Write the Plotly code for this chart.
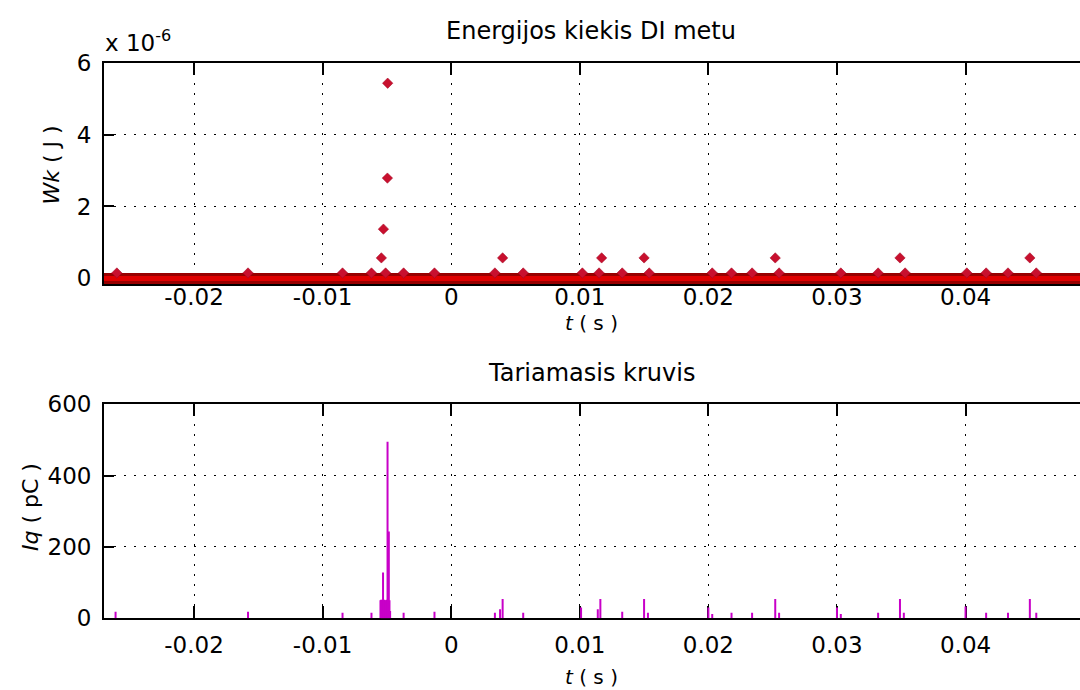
import plotly.graph_objects as go

# ---------------- data ----------------
# top panel: energy per discharge (J), diamond markers
W_t = [-0.0260, -0.0158, -0.00845, -0.0062, -0.00543, -0.00527, -0.0051, -0.00496, -0.00494,
       -0.0037, -0.0013, 0.0034, 0.0040, 0.0056, 0.0102, 0.0115, 0.0117, 0.0133, 0.0150,
       0.0154, 0.0203, 0.0218, 0.0234, 0.0252, 0.0255, 0.0303, 0.0332, 0.0349, 0.0353,
       0.0401, 0.0416, 0.0433, 0.0450, 0.0455]
W_val = [0.15e-6, 0.15e-6, 0.15e-6, 0.15e-6, 0.57e-6, 1.37e-6, 0.15e-6, 2.79e-6, 5.43e-6,
         0.15e-6, 0.15e-6, 0.15e-6, 0.57e-6, 0.15e-6, 0.15e-6, 0.15e-6, 0.57e-6, 0.15e-6, 0.57e-6,
         0.15e-6, 0.15e-6, 0.15e-6, 0.15e-6, 0.57e-6, 0.15e-6, 0.15e-6, 0.15e-6, 0.57e-6, 0.15e-6,
         0.15e-6, 0.15e-6, 0.15e-6, 0.57e-6, 0.15e-6]
# zero-level samples (the dense band along W = 0)
base_t = [-0.0275, 0.0495]
base_W = [0.0, 0.0]

# bottom panel: apparent charge (pC), stems
q_t = [-0.0261, -0.0158, -0.00845, -0.0062,
       -0.00550, -0.00545, -0.00540, -0.00535, -0.00530, -0.00525, -0.00520, -0.00515,
       -0.00510, -0.00505, -0.00500, -0.00495, -0.00490, -0.00485, -0.00480, -0.00475,
       -0.0037, -0.0013, 0.0034, 0.0038, 0.0040, 0.0056,
       0.0101, 0.0114, 0.0116, 0.0133, 0.0150, 0.0153,
       0.0200, 0.0203, 0.0218, 0.0234, 0.0252, 0.0255,
       0.0300, 0.0303, 0.0332, 0.0349, 0.0352,
       0.0400, 0.0416, 0.0433, 0.0450, 0.0455]
q_val = [18, 18, 15, 15,
         50, 52, 50, 52, 128, 50, 52, 50,
         48, 50, 52, 495, 50, 243, 50, 20,
         15, 18, 15, 25, 54, 15,
         30, 25, 54, 18, 54, 15,
         30, 12, 15, 15, 54, 15,
         30, 12, 15, 54, 15,
         33, 15, 15, 54, 15]

x_tick_vals = [-0.02, -0.01, 0, 0.01, 0.02, 0.03, 0.04]
x_tick_text = ["-0.02", "-0.01", "0", "0.01", "0.02", "0.03", "0.04"]
yW_tick_vals = [0, 2e-6, 4e-6, 6e-6]
yW_tick_text = ["0", "2", "4", "6"]
yq_tick_vals = [0, 200, 400, 600]
yq_tick_text = ["0", "200", "400", "600"]

title_top = "Energijos kiekis DI metu"
title_bot = "Tariamasis kruvis"

# ---------------- figure ----------------
W, H = 1080, 690
FONT = "DejaVu Sans"
TICK = 23
# observed vertical mapping of the paper area in the renderer
P_TOP, P_H = 12.2, 665.0


def py(p):
    """pixel row (from top) -> paper fraction"""
    return 1 - (p - P_TOP) / P_H


fig = go.Figure()

# zero band (top)
fig.add_trace(go.Scatter(x=base_t, y=base_W, mode="lines", line=dict(color="#980000", width=11),
                         xaxis="x", yaxis="y", hoverinfo="skip", showlegend=False))
fig.add_trace(go.Scatter(x=base_t, y=base_W, mode="lines", line=dict(color="#e00000", width=5),
                         xaxis="x", yaxis="y", hoverinfo="skip", showlegend=False))
# diamonds
fig.add_trace(go.Scatter(x=W_t, y=W_val, mode="markers",
                         marker=dict(symbol="diamond", size=8, color="#c8102e",
                                     line=dict(color="#a0001e", width=0.5)),
                         cliponaxis=False, xaxis="x", yaxis="y", showlegend=False))

# stems (bottom)
sx, sy = [], []
for t, v in zip(q_t, q_val):
    sx += [t, t, None]
    sy += [0, v, None]
fig.add_trace(go.Scatter(x=sx, y=sy, mode="lines", line=dict(color="#c800c8", width=2),
                         xaxis="x2", yaxis="y2", showlegend=False))

xr = [-0.027, 0.0489]
xdom = [104 / W, 1.0]
ydom_top = [py(284.1), py(62)]
ydom_bot = [py(618.3), py(404)]
yW_range = [-0.17e-6, 6e-6]

common_x = dict(range=xr, domain=xdom, tickvals=x_tick_vals, ticktext=x_tick_text,
                ticks="inside", ticklen=12, tickwidth=1.5, tickcolor="black",
                showline=True, linecolor="black", linewidth=1.8, mirror="ticks",
                showgrid=True, gridcolor="black", gridwidth=1.4, griddash="2px,8px",
                zeroline=False, layer="below traces",
                tickfont=dict(family=FONT, size=TICK, color="black"))
common_y = dict(ticks="inside", ticklen=10, tickwidth=1.5, tickcolor="black",
                showline=True, linecolor="black", linewidth=1.8, mirror=False,
                showgrid=True, gridcolor="black", gridwidth=1.4, griddash="2px,8px",
                zeroline=False, layer="below traces",
                tickfont=dict(family=FONT, size=TICK, color="black"), ticklabelstandoff=6)

fig.update_layout(
    width=W, height=H, margin=dict(l=0, r=0, t=0, b=0),
    paper_bgcolor="white", plot_bgcolor="white", showlegend=False,
    xaxis=dict(**common_x, anchor="y", ticklabelstandoff=-9),
    yaxis=dict(**common_y, domain=ydom_top, range=yW_range, tickvals=yW_tick_vals,
               ticktext=yW_tick_text, anchor="x"),
    xaxis2=dict(**common_x, anchor="y2", ticklabelstandoff=5),
    yaxis2=dict(**common_y, domain=ydom_bot, range=[0, 600], tickvals=yq_tick_vals,
                ticktext=yq_tick_text, anchor="x2"),
)


def ann(text, x, y, size=22, angle=0, xanchor="center", yanchor="middle"):
    fig.add_annotation(text=text, x=x, y=y, xref="paper", yref="paper", showarrow=False,
                       xanchor=xanchor, yanchor=yanchor, textangle=angle,
                       font=dict(family=FONT, size=size, color="black"))


ann(title_top, 591 / W, py(30), size=24)
ann(title_bot, 591 / W, py(373), size=24)
ann("<i>t</i> ( s )", 591 / W, py(323), size=20)
ann("<i>t</i> ( s )", 591 / W, py(677), size=20)
ann("<i>Wk</i> ( J )", 52 / W, py(165), angle=-90)
ann("<i>Iq</i> ( pC )", 30 / W, py(507), angle=-90)
ann("x 10<sup>-6</sup>", 103 / W, py(40), xanchor="left", size=23)

fig.write_html("out.html")
